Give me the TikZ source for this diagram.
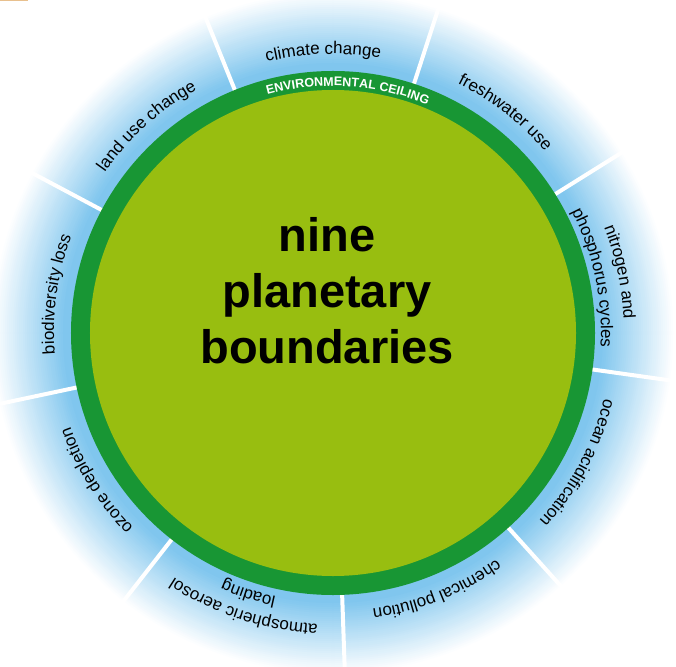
\documentclass[tikz,border=0pt]{standalone}
\usepackage{fontspec}
\setmainfont{Liberation Sans}
\usetikzlibrary{decorations.text}
\definecolor{pbgreen}{RGB}{152,190,16}
\definecolor{pbring}{RGB}{24,150,52}
\definecolor{pbsky}{RGB}{128,198,238}
\definecolor{pbcorner}{RGB}{232,192,142}

\begin{document}
\begin{tikzpicture}[x=1pt,y=1pt]
    % Setup the styles for the rings and the labels
        \tikzset{glow ring/.style={fill=pbsky!#1!white, draw=none},
                 divider/.style={draw=white, line width=4pt},
                 arc text/.style={decorate,
                                  decoration={text along path,
                                              text align=center,
                                              text={|\fontsize{17}{20}\selectfont|#1}}},
                 ceiling text/.style={decorate,
                                      decoration={text along path,
                                                  text align=center,
                                                  text color=white,
                                                  text={|\bfseries\fontsize{12.5}{14}\selectfont|#1}}},
                 title style/.style={align=center,
                                     text=black,
                                     font=\bfseries\fontsize{47}{56}\selectfont}}
        \useasboundingbox (-333,-333) rectangle (343,333);
        \fill[pbcorner] (-333,333) rectangle (-305,331.5);
        % Draw the blue glow around the ceiling
        \foreach \r in {346,344,...,262} {
            \pgfmathtruncatemacro\p{max(0,min(100,(342-\r)*1.4))}
            \fill[glow ring=\p] (0,0) circle (\r);
        }
        \foreach \a in {32,72,...,352}
            \draw[divider] (\a:260) -- (\a:342);
        % Draw the ceiling and the inner disc
        \fill[pbring] (0,0) circle (262);
        \fill[pbgreen] (0,0) circle (243);
        \node[title style] (title) at (-6,42) {nine\\planetary\\boundaries};
        % Labels round the ring
        \path[ceiling text={ENVIRONMENTAL CEILING}] (108:247) arc[start angle=108, end angle=65, radius=247];
        \path[arc text={climate change}] (111:279) arc[start angle=111, end angle=73, radius=279];
        \path[arc text={freshwater use}] (71:279) arc[start angle=71, end angle=33, radius=279];
        \path[arc text={nitrogen and}] (31:291) arc[start angle=31, end angle=-7, radius=291];
        \path[arc text={phosphorus cycles}] (31:268) arc[start angle=31, end angle=-7, radius=268];
        \path[arc text={ocean acidification}] (351:279) arc[start angle=351, end angle=313, radius=279];
        \path[arc text={chemical pollution}] (311:279) arc[start angle=311, end angle=273, radius=279];
        \path[arc text={atmospheric aerosol}] (271:292) arc[start angle=271, end angle=233, radius=292];
        \path[arc text={loading}] (271:270) arc[start angle=271, end angle=233, radius=270];
        \path[arc text={ozone depletion}] (231:279) arc[start angle=231, end angle=193, radius=279];
        \path[arc text={biodiversity loss}] (191:279) arc[start angle=191, end angle=153, radius=279];
        \path[arc text={land use change}] (151:279) arc[start angle=151, end angle=113, radius=279];
\end{tikzpicture}
\end{document}
